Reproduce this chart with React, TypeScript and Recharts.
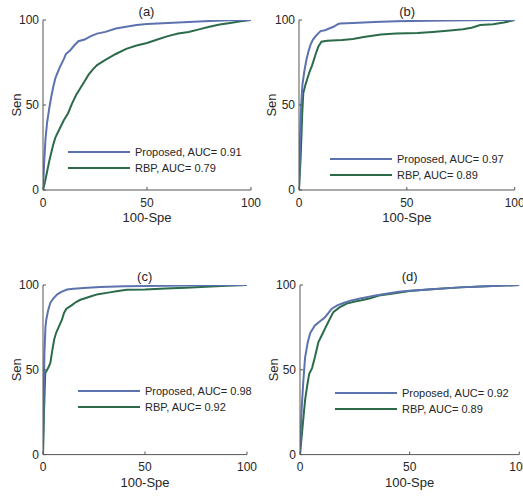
import { LineChart, Line, XAxis, YAxis, Legend } from 'recharts'

type Pt = [number, number]

const ticks = [0, 50, 100]
const titles = ['(a)', '(b)', '(c)', '(d)']
const seriesNames = ['Proposed', 'RBP']
const aucProposed = [0.91, 0.97, 0.98, 0.92]
const aucRbp = [0.79, 0.89, 0.92, 0.89]

// ROC points: [100-Spe, Sen]
const proposedA: Pt[] = [
  [0, 0], [0.5, 15], [1.2, 30], [2, 40], [3, 48], [4, 55], [5, 61], [6, 66], [7, 69], [8, 72],
  [10, 77], [11, 80], [13, 82], [15, 85], [17, 87.5], [20, 88.5], [23, 90.5], [26, 92], [30, 93],
  [35, 95], [40, 96], [45, 97], [50, 97.6], [60, 98.3], [70, 98.8], [80, 99.4], [90, 99.8], [100, 100],
]
const rbpA: Pt[] = [
  [0, 0], [1, 5], [2, 11], [3, 17], [4, 22], [5, 27], [6, 31], [8, 36], [10, 41], [12, 45],
  [14, 51], [16, 56], [18, 60], [20, 64], [22, 68], [24, 71], [26, 73.5], [30, 76.5], [35, 80],
  [40, 83], [45, 85], [50, 86.5], [55, 88.5], [60, 90.5], [65, 92], [70, 93], [75, 94.5], [80, 96],
  [85, 97.3], [90, 98.3], [95, 99.2], [100, 100],
]
const proposedB: Pt[] = [
  [0, 0], [0.5, 30], [1, 50], [1.6, 62], [2.5, 70], [3.4, 76.5], [4.5, 82], [5.5, 86], [6.5, 88.5],
  [8, 91], [10, 93.5], [12, 94], [14, 95], [16, 96], [18, 97.5], [19, 98], [25, 98.2], [35, 98.8],
  [45, 99.3], [60, 99.6], [80, 99.8], [100, 100],
]
const rbpB: Pt[] = [
  [0, 0], [0.8, 20], [1.5, 45], [2, 57], [3, 62], [4, 66], [5, 70], [6, 73], [7, 77], [8, 81],
  [9, 84.5], [10.4, 87.2], [13, 87.8], [20, 88.3], [25, 88.8], [30, 90], [38, 91.5], [45, 92],
  [55, 92.4], [62, 93], [70, 93.8], [76, 94.5], [80, 95.5], [84, 97], [90, 97.5], [95, 98.5], [100, 100],
]
const proposedC: Pt[] = [
  [0, 0], [0.3, 30], [0.7, 60], [1.2, 75], [1.6, 79.5], [2.5, 85], [3.6, 89.5], [5, 92], [7, 94.5],
  [9, 96], [11.8, 97.3], [15, 97.8], [20, 98.2], [28, 98.8], [40, 99.2], [60, 99.5], [80, 99.8], [100, 100],
]
const rbpC: Pt[] = [
  [0, 0], [0.5, 25], [1.1, 48], [2.5, 51], [3.6, 54], [4.5, 61], [5.5, 68], [6.5, 72], [8, 76],
  [9.3, 79.5], [10.3, 83.5], [11.5, 86], [14, 88], [16, 89.8], [18.3, 91.3], [21, 92.3], [24, 93.5],
  [27, 94.6], [32, 95.5], [36, 96.3], [41, 97.2], [50, 97.4], [60, 97.9], [70, 98.4], [80, 99],
  [90, 99.5], [100, 100],
]
const proposedD: Pt[] = [
  [0, 0], [0.4, 15], [0.8, 28], [1.5, 43], [2.3, 57], [3.5, 66], [4.6, 71.5], [5.5, 73.5], [6.8, 76.2],
  [9, 78.5], [11.4, 81], [13, 83.5], [14.5, 86], [17, 88], [19.8, 89.4], [23, 90.8], [27.4, 92],
  [31, 93], [35, 94], [40, 95], [45, 96], [50, 96.6], [60, 97.5], [73, 98.6], [85, 99.3], [100, 100],
]
const rbpD: Pt[] = [
  [0, 0], [1, 14], [2.3, 32], [3.2, 40], [4.2, 47.7], [5.5, 51], [6.8, 57.5], [8.4, 66.4], [10, 70.5],
  [11.4, 74.3], [13, 78.5], [15.2, 84], [18, 86.8], [21.3, 89], [25, 90.3], [28, 91], [32, 92.2],
  [36, 93.8], [42.5, 95], [50, 96.5], [60, 97.5], [73, 98.6], [85, 99.3], [100, 100],
]

const FONT = '"Liberation Sans", Arial, sans-serif'
const TEXT = '#262626'
const AXIS = '#555'
const BLUE = '#5b72ae'
const GREEN = '#2c6b4a'

const Y_W = 42
const TOP = 20
const X_H = 40
const RIGHT = 16

const toRows = (pts: Pt[]) => pts.map(([x, y]) => ({ x, y }))

function XTick({ x, y, payload }: any) {
  const ay = y - 8
  return (
    <g>
      <line x1={x} x2={x} y1={ay} y2={ay - 3} stroke={AXIS} />
      <text x={x} y={y} dy="0.71em" textAnchor="middle" fill={TEXT} fontSize={12} fontFamily={FONT}>
        {payload.value}
      </text>
    </g>
  )
}

function YTick({ x, y, payload }: any) {
  const ax = x + 4
  return (
    <g>
      <line x1={ax} x2={ax + 3} y1={y} y2={y} stroke={AXIS} />
      <text x={x} y={y} dy="0.355em" textAnchor="end" fill={TEXT} fontSize={12} fontFamily={FONT}>
        {payload.value}
      </text>
    </g>
  )
}

function XTitle({ cx, base }: { cx: number; base: number }) {
  return (
    <text x={cx} y={base} textAnchor="middle" fill={TEXT} fontSize={13} fontFamily={FONT}>
      100-Spe
    </text>
  )
}

function YTitle({ cx, cy }: { cx: number; cy: number }) {
  return (
    <text
      x={cx}
      y={cy}
      transform={`rotate(-90 ${cx} ${cy})`}
      textAnchor="middle"
      dominantBaseline="central"
      fill={TEXT}
      fontSize={13}
      fontFamily={FONT}
    >
      Sen
    </text>
  )
}

function LegendBox({ auc1, auc2 }: { auc1: number; auc2: number }) {
  const rows = [
    { color: BLUE, text: `${seriesNames[0]}, AUC= ${auc1.toFixed(2)}` },
    { color: GREEN, text: `${seriesNames[1]}, AUC= ${auc2.toFixed(2)}` },
  ]
  return (
    <svg width={200} height={32} style={{ display: 'block' }}>
      {rows.map((r, i) => (
        <g key={i}>
          <line x1={0} x2={62} y1={8 + i * 16} y2={8 + i * 16} stroke={r.color} strokeWidth={2} />
          <text x={67} y={8 + i * 16} dy="0.35em" fill={TEXT} fontSize={11} fontFamily={FONT}>
            {r.text}
          </text>
        </g>
      ))}
    </svg>
  )
}

interface PanelProps {
  box: [number, number, number, number]
  legendAt: [number, number]
  title: string
  proposed: Pt[]
  rbp: Pt[]
  auc1: number
  auc2: number
}

function Panel({ box, legendAt, title, proposed, rbp, auc1, auc2 }: PanelProps) {
  const [L, T, W, H] = box
  const left = L - Y_W
  const top = T - TOP
  return (
    <div style={{ position: 'absolute', left, top }}>
      <LineChart
        width={W + Y_W + RIGHT}
        height={H + TOP + X_H}
        margin={{ top: TOP, right: RIGHT, bottom: 0, left: 0 }}
      >
        <XAxis
          type="number"
          dataKey="x"
          domain={[0, 100]}
          ticks={ticks}
          interval={0}
          height={X_H}
          tickSize={0}
          tickMargin={8}
          tickLine={false}
          tick={<XTick />}
          axisLine={{ stroke: AXIS }}
          allowDataOverflow
          label={<XTitle cx={Y_W + W / 2} base={TOP + H + 32} />}
        />
        <YAxis
          type="number"
          domain={[0, 100]}
          ticks={ticks}
          interval={0}
          width={Y_W}
          tickSize={0}
          tickMargin={4}
          tickLine={false}
          tick={<YTick />}
          axisLine={{ stroke: AXIS }}
          allowDataOverflow
          label={<YTitle cx={15} cy={TOP + H / 2} />}
        />
        <Line
          data={toRows(rbp)}
          dataKey="y"
          name={seriesNames[1]}
          type="linear"
          stroke={GREEN}
          strokeWidth={2}
          dot={false}
          isAnimationActive={false}
        />
        <Line
          data={toRows(proposed)}
          dataKey="y"
          name={seriesNames[0]}
          type="linear"
          stroke={BLUE}
          strokeWidth={2}
          dot={false}
          isAnimationActive={false}
        />
        <Legend
          layout="vertical"
          align="center"
          verticalAlign="middle"
          wrapperStyle={{ left: legendAt[0] - left, top: legendAt[1] - 8 - top, width: 200 }}
          content={() => <LegendBox auc1={auc1} auc2={auc2} />}
        />
      </LineChart>
      <div
        style={{
          position: 'absolute',
          left: Y_W,
          width: W,
          top: TOP - 16,
          lineHeight: '16px',
          textAlign: 'center',
          fontSize: 13,
          fontFamily: FONT,
          color: TEXT,
        }}
      >
        {title}
      </div>
    </div>
  )
}

export default function App() {
  return (
    <div
      style={{
        position: 'absolute',
        left: 0,
        top: 0,
        width: 523,
        height: 497,
        overflow: 'hidden',
        background: '#fff',
      }}
    >
      <Panel box={[42.5, 20, 208, 170]} legendAt={[68, 152]} title={titles[0]}
        proposed={proposedA} rbp={rbpA} auc1={aucProposed[0]} auc2={aucRbp[0]} />
      <Panel box={[299.3, 20, 215.7, 170]} legendAt={[330, 159]} title={titles[1]}
        proposed={proposedB} rbp={rbpB} auc1={aucProposed[1]} auc2={aucRbp[1]} />
      <Panel box={[42.7, 284.7, 204, 169.6]} legendAt={[78, 391]} title={titles[2]}
        proposed={proposedC} rbp={rbpC} auc1={aucProposed[2]} auc2={aucRbp[2]} />
      <Panel box={[300, 284.7, 219.3, 169.6]} legendAt={[335, 393]} title={titles[3]}
        proposed={proposedD} rbp={rbpD} auc1={aucProposed[3]} auc2={aucRbp[3]} />
    </div>
  )
}
